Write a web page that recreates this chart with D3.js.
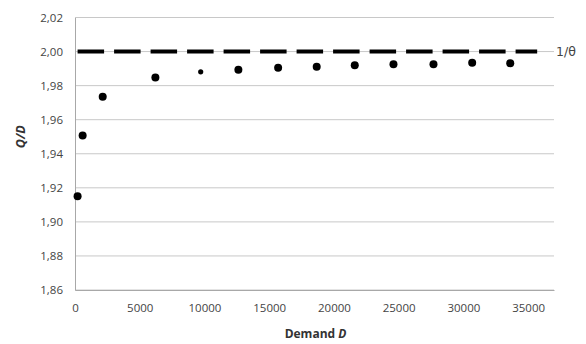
<!DOCTYPE html>
<html>
<head>
<meta charset="utf-8">
<script src="https://cdn.jsdelivr.net/npm/d3@7"></script>
<style>
    body { margin: 0; background: #fff; }
    #chart { width: 586px; height: 344px; }
    .tick text { font-family: "Open Sans", sans-serif; font-size: 11.5px; fill: #444; }
</style>
</head>
<body>
<div id="chart"></div>
<script>

// demand values (x) and Q/D ratios (y)
let demand = [200, 590, 2140, 6210, 9710, 12620, 15690, 18670, 21610, 24600, 27690, 30680, 33620];
let ratio = [1.915, 1.9507, 1.9734, 1.9848, 1.9881, 1.9893, 1.9905, 1.9911, 1.9919, 1.9926, 1.9926, 1.9934, 1.9932];

// the 1/theta reference line
let refValue = 2.00;
let refEnd = 35700;

let yTicks = [1.86, 1.88, 1.90, 1.92, 1.94, 1.96, 1.98, 2.00, 2.02];
let xTicks = [0, 5000, 10000, 15000, 20000, 25000, 30000, 35000];

let margin = {top: 17.5, right: 32, bottom: 54, left: 75};
let width = 586 - margin.left - margin.right;
let height = 344 - margin.top - margin.bottom;

let svg = d3.select("#chart").append("svg")
    .attr("width", 586)
    .attr("height", 344)
    .append("g")
    .attr("transform", `translate(${margin.left}, ${margin.top})`);

let x = d3.scaleLinear().domain([0, 37000]).range([0, width]);
let y = d3.scaleLinear().domain([1.86, 2.02]).range([height, 0]);

// horizontal gridlines
svg.selectAll(".grid")
    .data(yTicks)
    .enter()
    .append("line")
    .attr("class", "grid")
    .attr("x1", 0)
    .attr("x2", width)
    .attr("y1", d => y(d))
    .attr("y2", d => y(d))
    .attr("stroke", "#c8c8c8")
    .attr("stroke-width", 1);

// y axis
let yAxis = svg.append("g")
    .call(d3.axisLeft(y).tickValues(yTicks).tickSize(0).tickPadding(12)
        .tickFormat(d => d3.format(".2f")(d).replace(".", ",")));
yAxis.select(".domain").attr("stroke", "#a8a8a8");

// x axis
let xAxis = svg.append("g")
    .attr("transform", `translate(0, ${height})`)
    .call(d3.axisBottom(x).tickValues(xTicks).tickSize(0).tickPadding(14).tickFormat(d3.format("d")));
xAxis.select(".domain").attr("stroke", "#a8a8a8");

// dashed 1/theta line
svg.append("line")
    .attr("x1", x(200))
    .attr("x2", x(refEnd))
    .attr("y1", y(refValue))
    .attr("y2", y(refValue))
    .attr("stroke", "#000")
    .attr("stroke-width", 4)
    .attr("stroke-dasharray", "26.5,10");

svg.append("text")
    .attr("x", width + 2)
    .attr("y", y(refValue) + 4.5)
    .attr("font-family", "DejaVu Sans, sans-serif")
    .attr("font-size", 12.5)
    .attr("fill", "#444")
    .text("1/θ");

// points
svg.selectAll(".dot")
    .data(demand)
    .enter()
    .append("circle")
    .attr("class", "dot")
    .attr("cx", d => x(d))
    .attr("cy", (d, i) => y(ratio[i]))
    .attr("r", (d, i) => i === 4 ? 2.6 : 4)
    .attr("fill", "#000");

// axis titles
let xLabel = svg.append("text")
    .attr("x", width / 2 + 1)
    .attr("y", height + 48)
    .attr("text-anchor", "middle")
    .attr("font-family", "Open Sans, sans-serif")
    .attr("font-size", 12)
    .attr("font-weight", "bold")
    .attr("fill", "#333");
xLabel.append("tspan").text("Demand ");
xLabel.append("tspan").attr("font-style", "italic").text("D");

svg.append("text")
    .attr("transform", `translate(${-50}, ${y(1.95)}) rotate(-90)`)
    .attr("text-anchor", "middle")
    .attr("font-family", "Open Sans, sans-serif")
    .attr("font-size", 12.5)
    .attr("font-weight", "bold")
    .attr("font-style", "italic")
    .attr("fill", "#333")
    .text("Q/D");

</script>
</body>
</html>
